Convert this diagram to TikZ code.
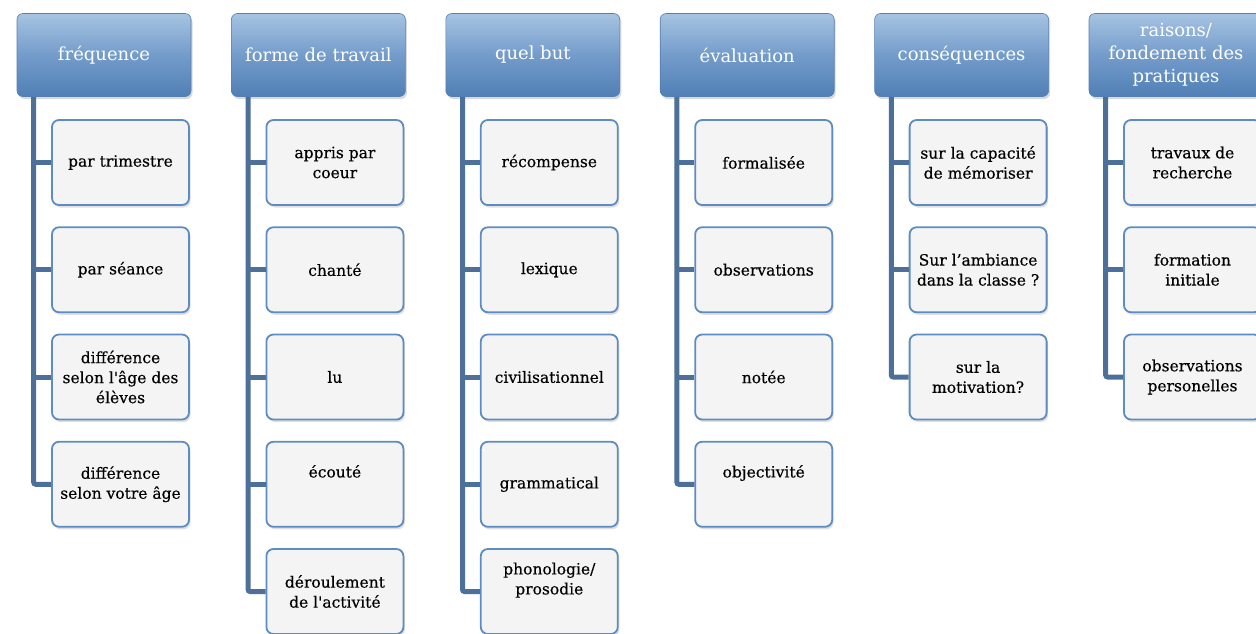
\documentclass[tikz,border=0pt]{standalone}
\usepackage{fontspec}
\setmainfont{DejaVu Serif}
\newfontfamily\childfont{DejaVu Serif}[FakeBold=0.35]
\usetikzlibrary{shadows}
\definecolor{hdtop}{HTML}{A6C3E2}
\definecolor{hdmid}{HTML}{749CCA}
\definecolor{hdbot}{HTML}{507FB6}
\definecolor{hdedge}{HTML}{5680B2}
\definecolor{linec}{HTML}{4D709A}
\definecolor{boxedge}{HTML}{5D8CC3}
\definecolor{boxfill}{HTML}{F4F4F4}
\newcommand{\sq}{\char"27\relax}
\begin{document}
\begin{tikzpicture}[x=1pt,y=-1pt,
  header/.style={rectangle, rounded corners=6pt, minimum width=174pt, minimum height=83pt,
    top color=hdtop, bottom color=hdbot, middle color=hdmid, draw=hdedge, line width=0.6pt,
    text=white, font=\fontsize{18}{23}\selectfont, align=center, inner sep=2pt,
    drop shadow={shadow xshift=1.5pt, shadow yshift=-2.5pt, opacity=0.3}},
  childbox/.style={rectangle, rounded corners=7pt, minimum width=137pt, minimum height=85pt,
    fill=boxfill, draw=boxedge, line width=1.8pt, text=black,
    font=\childfont\fontsize{15.5}{20}\selectfont, align=center, inner xsep=2pt,
    drop shadow={shadow xshift=1.5pt, shadow yshift=-2.5pt, opacity=0.25}},
  conn/.style={draw=linec, line width=5pt}]
\useasboundingbox (0,0) rectangle (1256,633);
\clip (0,0) rectangle (1256,633);

% headers
\node[header] (h1) at (104,55) {fréquence};
\node[header] (h2) at (318.4,55) {forme de travail};
\node[header] (h3) at (532.8,55) {quel but};
\node[header] (h4) at (747.2,55) {évaluation};
\node[header] (h5) at (961.6,55) {conséquences};
\node[header] (h6) at (1176,55) {raisons/\\fondement des\\pratiques};

% column 1
\node[childbox] (c11) at (120.5,162.5) {par trimestre};
\node[childbox] (c12) at (120.5,269.75) {par séance};
\node[childbox] (c13) at (120.5,377) {différence\\selon l\sq âge des\\élèves};
\node[childbox] (c14) at (120.5,484.25) {différence\\selon votre âge};
% column 2
\node[childbox] (c21) at (334.9,162.5) {appris par\\coeur};
\node[childbox] (c22) at (334.9,269.75) {chanté};
\node[childbox] (c23) at (334.9,377) {lu};
\node[childbox] (c24) at (334.9,484.25) {écouté\\\strut};
\node[childbox] (c25) at (334.9,591.5) {déroulement\\de l\sq activité};
% column 3
\node[childbox] (c31) at (549.3,162.5) {récompense};
\node[childbox] (c32) at (549.3,269.75) {lexique};
\node[childbox] (c33) at (549.3,377) {civilisationnel};
\node[childbox] (c34) at (549.3,484.25) {grammatical};
\node[childbox] (c35) at (549.3,591.5) {phonologie/\\prosodie\\\strut};
% column 4
\node[childbox] (c41) at (763.7,162.5) {formalisée};
\node[childbox] (c42) at (763.7,269.75) {observations};
\node[childbox] (c43) at (763.7,377) {notée};
\node[childbox] (c44) at (763.7,484.25) {objectivité\\\strut};
% column 5
\node[childbox] (c51) at (978.1,162.5) {sur la capacité\\de mémoriser};
\node[childbox] (c52) at (978.1,269.75) {Sur l’ambiance\\dans la classe ?};
\node[childbox] (c53) at (978.1,377) {sur la\\motivation?};
% column 6
\node[childbox] (c61) at (1192.5,162.5) {travaux de\\recherche};
\node[childbox] (c62) at (1192.5,269.75) {formation\\initiale};
\node[childbox] (c63) at (1192.5,377) {observations\\personelles};

% connectors
\foreach \h/\last/\others in {h1/c14/{c11,c12,c13}, h2/c25/{c21,c22,c23,c24},
    h3/c35/{c31,c32,c33,c34}, h4/c44/{c41,c42,c43}, h5/c53/{c51,c52}, h6/c63/{c61,c62}} {
  \draw[conn, rounded corners=2pt] ([xshift=17pt]\h.south west) |- (\last.west);
  \foreach \c in \others {
    \draw[conn] ([xshift=17pt]\h.south west |- \c.west) -- (\c.west);
  }
}
\end{tikzpicture}
\end{document}
